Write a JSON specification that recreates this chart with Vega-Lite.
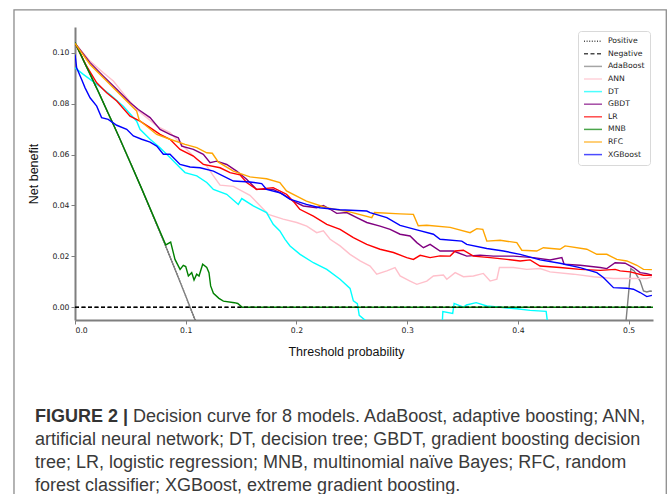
{
  "$schema": "https://vega.github.io/schema/vega-lite/v6.json",
  "width": 578,
  "height": 293,
  "autosize": {"type": "none"},
  "padding": {"left": 75, "top": 27, "right": 19, "bottom": 174},
  "background": "white",
  "config": {
    "view": {"stroke": null},
    "axis": {
      "domainColor": "#7f7f7f", "domainWidth": 2, "tickColor": "#7f7f7f", "tickWidth": 1, "tickSize": 4,
      "labelFont": "DejaVu Sans", "labelFontSize": 7.7, "labelColor": "#222", "labelPadding": 2,
      "titleFont": "Liberation Sans", "titleFontSize": 12.5, "titleFontWeight": "normal", "titleColor": "#111",
      "grid": false
    },
    "legend": {
      "orient": "none", "legendX": 503, "legendY": 4, "fillColor": "white", "strokeColor": "#d9d9d9",
      "cornerRadius": 3, "padding": 5, "symbolType": "stroke", "symbolSize": 324, "symbolStrokeWidth": 1.5,
      "labelFont": "DejaVu Sans", "labelFontSize": 7.7, "labelColor": "#222", "clipHeight": 10.4, "rowPadding": 1.6,
      "labelOffset": 5, "symbolOpacity": 0.7
    }
  },
  "datasets": {
    "curves": [
      {"m":"Positive","x":0,"y":0.104},{"m":"Positive","x":0.02,"y":0.0857},{"m":"Positive","x":0.04,"y":0.0667},{"m":"Positive","x":0.06,"y":0.0468},{"m":"Positive","x":0.08,"y":0.0261},{"m":"Positive","x":0.1,"y":0.0044},{"m":"Positive","x":0.11,"y":-0.0067},{"m":"Positive","x":0.12,"y":-0.0182},
      {"m":"Negative","x":0,"y":0},{"m":"Negative","x":0.522,"y":0},
      {"m":"AdaBoost","x":0,"y":0.104},{"m":"AdaBoost","x":0.02,"y":0.0857},{"m":"AdaBoost","x":0.04,"y":0.0667},{"m":"AdaBoost","x":0.06,"y":0.0468},{"m":"AdaBoost","x":0.08,"y":0.0261},{"m":"AdaBoost","x":0.1,"y":0.0044},{"m":"AdaBoost","x":0.11,"y":-0.0067},{"m":"AdaBoost","x":0.12,"y":-0.0182},{"m":"AdaBoost","x":0.2,"y":-0.12},{"m":"AdaBoost","x":0.3,"y":-0.28},{"m":"AdaBoost","x":0.4,"y":-0.49},{"m":"AdaBoost","x":0.497,"y":-0.78},{"m":"AdaBoost","x":0.4975,"y":-0.006},{"m":"AdaBoost","x":0.502,"y":0.0152},{"m":"AdaBoost","x":0.505,"y":0.0143},{"m":"AdaBoost","x":0.5104,"y":0.0103},{"m":"AdaBoost","x":0.5134,"y":0.0064},{"m":"AdaBoost","x":0.5164,"y":0.006},{"m":"AdaBoost","x":0.5194,"y":0.0064},{"m":"AdaBoost","x":0.521,"y":0.0063},
      {"m":"ANN","x":0,"y":0.1037},{"m":"ANN","x":0.0136,"y":0.0967},{"m":"ANN","x":0.0256,"y":0.0921},{"m":"ANN","x":0.0346,"y":0.0889},{"m":"ANN","x":0.0407,"y":0.0856},{"m":"ANN","x":0.0467,"y":0.0823},{"m":"ANN","x":0.0557,"y":0.0777},{"m":"ANN","x":0.0648,"y":0.0745},{"m":"ANN","x":0.0738,"y":0.0712},{"m":"ANN","x":0.0858,"y":0.0686},{"m":"ANN","x":0.0978,"y":0.0633},{"m":"ANN","x":0.11,"y":0.0581},{"m":"ANN","x":0.119,"y":0.0555},{"m":"ANN","x":0.125,"y":0.0516},{"m":"ANN","x":0.131,"y":0.048},{"m":"ANN","x":0.143,"y":0.0475},{"m":"ANN","x":0.158,"y":0.044},{"m":"ANN","x":0.1746,"y":0.0365},{"m":"ANN","x":0.188,"y":0.0346},{"m":"ANN","x":0.2003,"y":0.0333},{"m":"ANN","x":0.2093,"y":0.0319},{"m":"ANN","x":0.2183,"y":0.0293},{"m":"ANN","x":0.2243,"y":0.03},{"m":"ANN","x":0.2304,"y":0.0267},{"m":"ANN","x":0.2394,"y":0.0241},{"m":"ANN","x":0.2484,"y":0.0208},{"m":"ANN","x":0.2575,"y":0.0182},{"m":"ANN","x":0.2665,"y":0.0162},{"m":"ANN","x":0.2725,"y":0.013},{"m":"ANN","x":0.2816,"y":0.0143},{"m":"ANN","x":0.289,"y":0.0156},{"m":"ANN","x":0.2936,"y":0.0123},{"m":"ANN","x":0.3026,"y":0.0103},{"m":"ANN","x":0.3087,"y":0.009},{"m":"ANN","x":0.3177,"y":0.0103},{"m":"ANN","x":0.3237,"y":0.0123},{"m":"ANN","x":0.3327,"y":0.0127},{"m":"ANN","x":0.3358,"y":0.011},{"m":"ANN","x":0.3433,"y":0.0136},{"m":"ANN","x":0.3508,"y":0.012},{"m":"ANN","x":0.3598,"y":0.0123},{"m":"ANN","x":0.3688,"y":0.0133},{"m":"ANN","x":0.3749,"y":0.0103},{"m":"ANN","x":0.381,"y":0.011},{"m":"ANN","x":0.3833,"y":0.0156},{"m":"ANN","x":0.396,"y":0.0156},{"m":"ANN","x":0.408,"y":0.0149},{"m":"ANN","x":0.42,"y":0.0152},{"m":"ANN","x":0.429,"y":0.0139},{"m":"ANN","x":0.4501,"y":0.013},{"m":"ANN","x":0.4682,"y":0.012},{"m":"ANN","x":0.4863,"y":0.0113},{"m":"ANN","x":0.5043,"y":0.0113},{"m":"ANN","x":0.5164,"y":0.0113},{"m":"ANN","x":0.521,"y":0.012},
      {"m":"DT","x":0,"y":0.0941},{"m":"DT","x":0.0075,"y":0.0915},{"m":"DT","x":0.0196,"y":0.0876},{"m":"DT","x":0.0316,"y":0.0836},{"m":"DT","x":0.0436,"y":0.079},{"m":"DT","x":0.0557,"y":0.0731},{"m":"DT","x":0.0587,"y":0.0699},{"m":"DT","x":0.0678,"y":0.066},{"m":"DT","x":0.0768,"y":0.0627},{"m":"DT","x":0.0858,"y":0.0588},{"m":"DT","x":0.0949,"y":0.0548},{"m":"DT","x":0.0994,"y":0.0529},{"m":"DT","x":0.11,"y":0.0516},{"m":"DT","x":0.119,"y":0.049},{"m":"DT","x":0.125,"y":0.0463},{"m":"DT","x":0.137,"y":0.0444},{"m":"DT","x":0.1475,"y":0.0404},{"m":"DT","x":0.1506,"y":0.0427},{"m":"DT","x":0.161,"y":0.0398},{"m":"DT","x":0.173,"y":0.0372},{"m":"DT","x":0.179,"y":0.0326},{"m":"DT","x":0.185,"y":0.03},{"m":"DT","x":0.1897,"y":0.0267},{"m":"DT","x":0.1942,"y":0.0241},{"m":"DT","x":0.2033,"y":0.0208},{"m":"DT","x":0.2153,"y":0.0175},{"m":"DT","x":0.2274,"y":0.0149},{"m":"DT","x":0.2394,"y":0.011},{"m":"DT","x":0.2484,"y":0.0074},{"m":"DT","x":0.2514,"y":0.0025},{"m":"DT","x":0.255,"y":0.0014},{"m":"DT","x":0.2567,"y":-0.0032},{"m":"DT","x":0.2655,"y":-0.0063},{"m":"DT","x":0.29,"y":-0.015},{"m":"DT","x":0.331,"y":-0.012},{"m":"DT","x":0.3322,"y":-0.0017},{"m":"DT","x":0.3411,"y":-0.0024},{"m":"DT","x":0.3424,"y":0.0015},{"m":"DT","x":0.3508,"y":0.0},{"m":"DT","x":0.3535,"y":0.0009},{"m":"DT","x":0.3623,"y":0.0018},{"m":"DT","x":0.3719,"y":0.0005},{"m":"DT","x":0.3839,"y":0.0},{"m":"DT","x":0.399,"y":-0.0006},{"m":"DT","x":0.411,"y":-0.0012},{"m":"DT","x":0.4255,"y":-0.0016},{"m":"DT","x":0.4285,"y":-0.012},{"m":"DT","x":0.46,"y":-0.02},{"m":"DT","x":0.521,"y":-0.03},
      {"m":"GBDT","x":0,"y":0.1037},{"m":"GBDT","x":0.0136,"y":0.0961},{"m":"GBDT","x":0.0256,"y":0.0908},{"m":"GBDT","x":0.0377,"y":0.0856},{"m":"GBDT","x":0.0497,"y":0.0804},{"m":"GBDT","x":0.0572,"y":0.0777},{"m":"GBDT","x":0.0678,"y":0.0745},{"m":"GBDT","x":0.0768,"y":0.0699},{"m":"GBDT","x":0.0858,"y":0.0679},{"m":"GBDT","x":0.0933,"y":0.0666},{"m":"GBDT","x":0.0964,"y":0.0633},{"m":"GBDT","x":0.1069,"y":0.062},{"m":"GBDT","x":0.1159,"y":0.0601},{"m":"GBDT","x":0.122,"y":0.0568},{"m":"GBDT","x":0.128,"y":0.0574},{"m":"GBDT","x":0.137,"y":0.0561},{"m":"GBDT","x":0.146,"y":0.0535},{"m":"GBDT","x":0.155,"y":0.0503},{"m":"GBDT","x":0.164,"y":0.0463},{"m":"GBDT","x":0.179,"y":0.0463},{"m":"GBDT","x":0.188,"y":0.0444},{"m":"GBDT","x":0.197,"y":0.0417},{"m":"GBDT","x":0.2062,"y":0.0398},{"m":"GBDT","x":0.2183,"y":0.0391},{"m":"GBDT","x":0.2243,"y":0.04},{"m":"GBDT","x":0.2304,"y":0.0385},{"m":"GBDT","x":0.2364,"y":0.0369},{"m":"GBDT","x":0.2454,"y":0.0372},{"m":"GBDT","x":0.2545,"y":0.0352},{"m":"GBDT","x":0.2635,"y":0.0333},{"m":"GBDT","x":0.2755,"y":0.0319},{"m":"GBDT","x":0.2846,"y":0.0306},{"m":"GBDT","x":0.2936,"y":0.0287},{"m":"GBDT","x":0.3026,"y":0.028},{"m":"GBDT","x":0.3087,"y":0.0254},{"m":"GBDT","x":0.3147,"y":0.0234},{"m":"GBDT","x":0.3207,"y":0.0247},{"m":"GBDT","x":0.3297,"y":0.0221},{"m":"GBDT","x":0.3418,"y":0.0221},{"m":"GBDT","x":0.3538,"y":0.0201},{"m":"GBDT","x":0.3659,"y":0.0205},{"m":"GBDT","x":0.3779,"y":0.0201},{"m":"GBDT","x":0.396,"y":0.0201},{"m":"GBDT","x":0.414,"y":0.0195},{"m":"GBDT","x":0.429,"y":0.0186},{"m":"GBDT","x":0.4397,"y":0.0195},{"m":"GBDT","x":0.4417,"y":0.0169},{"m":"GBDT","x":0.4562,"y":0.0165},{"m":"GBDT","x":0.4743,"y":0.0156},{"m":"GBDT","x":0.4803,"y":0.0152},{"m":"GBDT","x":0.4878,"y":0.0175},{"m":"GBDT","x":0.4968,"y":0.0173},{"m":"GBDT","x":0.5043,"y":0.0156},{"m":"GBDT","x":0.5104,"y":0.0136},{"m":"GBDT","x":0.5164,"y":0.0132},{"m":"GBDT","x":0.521,"y":0.0126},
      {"m":"LR","x":0,"y":0.1037},{"m":"LR","x":0.0105,"y":0.0947},{"m":"LR","x":0.0196,"y":0.0882},{"m":"LR","x":0.0286,"y":0.0843},{"m":"LR","x":0.0377,"y":0.081},{"m":"LR","x":0.0497,"y":0.0751},{"m":"LR","x":0.0587,"y":0.0731},{"m":"LR","x":0.0678,"y":0.0706},{"m":"LR","x":0.0768,"y":0.0679},{"m":"LR","x":0.0858,"y":0.066},{"m":"LR","x":0.0949,"y":0.062},{"m":"LR","x":0.1069,"y":0.0594},{"m":"LR","x":0.1159,"y":0.0561},{"m":"LR","x":0.131,"y":0.0548},{"m":"LR","x":0.14,"y":0.0529},{"m":"LR","x":0.149,"y":0.052},{"m":"LR","x":0.155,"y":0.049},{"m":"LR","x":0.164,"y":0.0463},{"m":"LR","x":0.179,"y":0.047},{"m":"LR","x":0.191,"y":0.0444},{"m":"LR","x":0.197,"y":0.0417},{"m":"LR","x":0.203,"y":0.0385},{"m":"LR","x":0.2153,"y":0.0358},{"m":"LR","x":0.2274,"y":0.0326},{"m":"LR","x":0.2394,"y":0.0306},{"m":"LR","x":0.2514,"y":0.0274},{"m":"LR","x":0.2635,"y":0.0247},{"m":"LR","x":0.2755,"y":0.0228},{"m":"LR","x":0.2876,"y":0.0215},{"m":"LR","x":0.2996,"y":0.0195},{"m":"LR","x":0.3056,"y":0.0188},{"m":"LR","x":0.3117,"y":0.0204},{"m":"LR","x":0.3207,"y":0.0195},{"m":"LR","x":0.3297,"y":0.0202},{"m":"LR","x":0.3388,"y":0.0201},{"m":"LR","x":0.3433,"y":0.0221},{"m":"LR","x":0.3508,"y":0.0224},{"m":"LR","x":0.3598,"y":0.0201},{"m":"LR","x":0.3749,"y":0.0195},{"m":"LR","x":0.39,"y":0.0188},{"m":"LR","x":0.402,"y":0.0182},{"m":"LR","x":0.411,"y":0.0186},{"m":"LR","x":0.42,"y":0.0162},{"m":"LR","x":0.438,"y":0.0156},{"m":"LR","x":0.4562,"y":0.0149},{"m":"LR","x":0.4743,"y":0.0145},{"m":"LR","x":0.4878,"y":0.0149},{"m":"LR","x":0.4923,"y":0.0143},{"m":"LR","x":0.5014,"y":0.0139},{"m":"LR","x":0.5134,"y":0.0126},{"m":"LR","x":0.521,"y":0.0126},
      {"m":"MNB","x":0,"y":0.104},{"m":"MNB","x":0.02,"y":0.0857},{"m":"MNB","x":0.04,"y":0.0667},{"m":"MNB","x":0.06,"y":0.0468},{"m":"MNB","x":0.082,"y":0.0245},{"m":"MNB","x":0.0864,"y":0.0256},{"m":"MNB","x":0.0903,"y":0.0188},{"m":"MNB","x":0.0949,"y":0.0149},{"m":"MNB","x":0.0978,"y":0.0165},{"m":"MNB","x":0.1,"y":0.016},{"m":"MNB","x":0.1024,"y":0.0123},{"m":"MNB","x":0.1054,"y":0.0136},{"m":"MNB","x":0.1075,"y":0.0107},{"m":"MNB","x":0.1099,"y":0.013},{"m":"MNB","x":0.112,"y":0.0123},{"m":"MNB","x":0.1153,"y":0.0169},{"m":"MNB","x":0.119,"y":0.0156},{"m":"MNB","x":0.121,"y":0.0136},{"m":"MNB","x":0.1225,"y":0.0084},{"m":"MNB","x":0.125,"y":0.0055},{"m":"MNB","x":0.13,"y":0.0035},{"m":"MNB","x":0.134,"y":0.0024},{"m":"MNB","x":0.144,"y":0.0018},{"m":"MNB","x":0.147,"y":0.0015},{"m":"MNB","x":0.151,"y":0},{"m":"MNB","x":0.522,"y":0},
      {"m":"RFC","x":0,"y":0.1037},{"m":"RFC","x":0.0136,"y":0.0954},{"m":"RFC","x":0.0256,"y":0.0902},{"m":"RFC","x":0.0407,"y":0.0836},{"m":"RFC","x":0.0557,"y":0.0771},{"m":"RFC","x":0.058,"y":0.0735},{"m":"RFC","x":0.0738,"y":0.0679},{"m":"RFC","x":0.0858,"y":0.066},{"m":"RFC","x":0.0994,"y":0.064},{"m":"RFC","x":0.11,"y":0.0627},{"m":"RFC","x":0.119,"y":0.0607},{"m":"RFC","x":0.124,"y":0.0605},{"m":"RFC","x":0.1295,"y":0.057},{"m":"RFC","x":0.143,"y":0.0535},{"m":"RFC","x":0.158,"y":0.0512},{"m":"RFC","x":0.173,"y":0.0505},{"m":"RFC","x":0.185,"y":0.049},{"m":"RFC","x":0.191,"y":0.0457},{"m":"RFC","x":0.209,"y":0.0417},{"m":"RFC","x":0.227,"y":0.0391},{"m":"RFC","x":0.248,"y":0.0375},{"m":"RFC","x":0.268,"y":0.0352},{"m":"RFC","x":0.2705,"y":0.0372},{"m":"RFC","x":0.2936,"y":0.0367},{"m":"RFC","x":0.3056,"y":0.0365},{"m":"RFC","x":0.31,"y":0.032},{"m":"RFC","x":0.3177,"y":0.0322},{"m":"RFC","x":0.3388,"y":0.0314},{"m":"RFC","x":0.3568,"y":0.0293},{"m":"RFC","x":0.3629,"y":0.0309},{"m":"RFC","x":0.3683,"y":0.0306},{"m":"RFC","x":0.3719,"y":0.026},{"m":"RFC","x":0.3839,"y":0.0263},{"m":"RFC","x":0.399,"y":0.0254},{"m":"RFC","x":0.4035,"y":0.0224},{"m":"RFC","x":0.417,"y":0.0221},{"m":"RFC","x":0.423,"y":0.0234},{"m":"RFC","x":0.438,"y":0.0228},{"m":"RFC","x":0.4426,"y":0.0241},{"m":"RFC","x":0.4622,"y":0.0228},{"m":"RFC","x":0.4713,"y":0.0208},{"m":"RFC","x":0.4803,"y":0.0208},{"m":"RFC","x":0.4893,"y":0.0188},{"m":"RFC","x":0.4984,"y":0.0182},{"m":"RFC","x":0.5074,"y":0.0165},{"m":"RFC","x":0.5134,"y":0.0149},{"m":"RFC","x":0.521,"y":0.0148},
      {"m":"XGBoost","x":0,"y":0.0993},{"m":"XGBoost","x":0.0015,"y":0.0941},{"m":"XGBoost","x":0.006,"y":0.0895},{"m":"XGBoost","x":0.009,"y":0.0863},{"m":"XGBoost","x":0.0136,"y":0.0823},{"m":"XGBoost","x":0.0196,"y":0.079},{"m":"XGBoost","x":0.024,"y":0.0745},{"m":"XGBoost","x":0.03,"y":0.0738},{"m":"XGBoost","x":0.0377,"y":0.0715},{"m":"XGBoost","x":0.0467,"y":0.0699},{"m":"XGBoost","x":0.0527,"y":0.0673},{"m":"XGBoost","x":0.0602,"y":0.066},{"m":"XGBoost","x":0.0678,"y":0.0649},{"m":"XGBoost","x":0.0738,"y":0.0633},{"m":"XGBoost","x":0.0798,"y":0.0601},{"m":"XGBoost","x":0.0858,"y":0.0601},{"m":"XGBoost","x":0.0949,"y":0.0561},{"m":"XGBoost","x":0.1039,"y":0.0551},{"m":"XGBoost","x":0.113,"y":0.0548},{"m":"XGBoost","x":0.125,"y":0.0535},{"m":"XGBoost","x":0.143,"y":0.0496},{"m":"XGBoost","x":0.158,"y":0.0492},{"m":"XGBoost","x":0.1686,"y":0.0486},{"m":"XGBoost","x":0.173,"y":0.0463},{"m":"XGBoost","x":0.185,"y":0.045},{"m":"XGBoost","x":0.194,"y":0.0425},{"m":"XGBoost","x":0.209,"y":0.0404},{"m":"XGBoost","x":0.221,"y":0.0391},{"m":"XGBoost","x":0.239,"y":0.0383},{"m":"XGBoost","x":0.2635,"y":0.0378},{"m":"XGBoost","x":0.2665,"y":0.0372},{"m":"XGBoost","x":0.2816,"y":0.0352},{"m":"XGBoost","x":0.2936,"y":0.0322},{"m":"XGBoost","x":0.3087,"y":0.0304},{"m":"XGBoost","x":0.3237,"y":0.0287},{"m":"XGBoost","x":0.3297,"y":0.0267},{"m":"XGBoost","x":0.3493,"y":0.026},{"m":"XGBoost","x":0.3538,"y":0.0247},{"m":"XGBoost","x":0.3719,"y":0.0231},{"m":"XGBoost","x":0.3869,"y":0.0221},{"m":"XGBoost","x":0.402,"y":0.0208},{"m":"XGBoost","x":0.42,"y":0.0186},{"m":"XGBoost","x":0.438,"y":0.0173},{"m":"XGBoost","x":0.456,"y":0.0156},{"m":"XGBoost","x":0.4713,"y":0.0136},{"m":"XGBoost","x":0.4772,"y":0.0117},{"m":"XGBoost","x":0.4863,"y":0.0077},{"m":"XGBoost","x":0.4983,"y":0.0075},{"m":"XGBoost","x":0.5043,"y":0.0071},{"m":"XGBoost","x":0.5104,"y":0.0058},{"m":"XGBoost","x":0.5164,"y":0.0042},{"m":"XGBoost","x":0.521,"y":0.0047}
    ]
  },
  "layer": [
    {
      "data": {"values": [{}]},
      "mark": {"type": "rect", "fillOpacity": 0, "stroke": "#8c8c8c", "strokeWidth": 1.3, "clip": false},
      "encoding": {
        "x": {"datum": -0.0551, "type": "quantitative"},
        "x2": {"datum": 0.534},
        "y": {"datum": 0.1168, "type": "quantitative"},
        "y2": {"datum": -0.0757}
      }
    },
    {
      "data": {"name": "curves"},
      "transform": [{"filter": "datum.m === 'Positive'"}],
      "mark": {"type": "line", "clip": true, "strokeWidth": 1.2},
      "encoding": {
        "x": {
          "field": "x", "type": "quantitative",
          "scale": {"domain": [0, 0.522], "nice": false, "zero": false},
          "axis": {"values": [0, 0.1, 0.2, 0.3, 0.4, 0.5], "format": ".1f", "title": "Threshold probability", "titleX": 271, "titlePadding": 12}
        },
        "y": {
          "field": "y", "type": "quantitative",
          "scale": {"domain": [-0.005, 0.1101], "nice": false, "zero": false},
          "axis": {"values": [0, 0.02, 0.04, 0.06, 0.08, 0.1], "format": ".2f", "title": "Net benefit", "titlePadding": 11}
        },
        "color": {
          "field": "m", "type": "nominal", "title": null,
          "scale": {
            "domain": ["Positive", "Negative", "AdaBoost", "ANN", "DT", "GBDT", "LR", "MNB", "RFC", "XGBoost"],
            "range": ["#000000", "#000000", "#808080", "#ffc0cb", "#00ffff", "#800080", "#ff0000", "#008000", "#ffa500", "#0000ff"]
          }
        },
        "strokeDash": {
          "field": "m", "type": "nominal", "title": null,
          "scale": {
            "domain": ["Positive", "Negative", "AdaBoost", "ANN", "DT", "GBDT", "LR", "MNB", "RFC", "XGBoost"],
            "range": [[1, 1.6], [4, 2.5], [], [], [], [], [], [], [], []]
          }
        }
      }
    },
    {
      "data": {"name": "curves"},
      "transform": [{"filter": "datum.m !== 'Positive'"}],
      "mark": {"type": "line", "clip": true, "strokeWidth": 1.4},
      "encoding": {
        "x": {"field": "x", "type": "quantitative"},
        "y": {"field": "y", "type": "quantitative"},
        "color": {"field": "m", "type": "nominal", "title": null},
        "strokeDash": {"field": "m", "type": "nominal", "title": null}
      }
    },
    {
      "data": {"values": [{"x": 0, "y": 0}, {"x": 0.522, "y": 0}]},
      "mark": {"type": "line", "color": "#000000", "strokeDash": [4, 2.5], "strokeWidth": 1.1, "clip": true},
      "encoding": {
        "x": {"field": "x", "type": "quantitative"},
        "y": {"field": "y", "type": "quantitative"}
      }
    },
    {
      "data": {"values": [{}]},
      "mark": {"type": "text", "align": "left", "baseline": "alphabetic", "font": "Liberation Sans", "fontSize": 18, "fontWeight": "bold", "color": "#333333", "clip": false},
      "encoding": {
        "x": {"datum": -0.0361, "type": "quantitative"},
        "y": {"datum": -0.0451, "type": "quantitative"},
        "text": {"value": "FIGURE 2 |"}
      }
    },
    {
      "data": {"values": [{}]},
      "mark": {"type": "text", "align": "left", "baseline": "alphabetic", "font": "Liberation Sans", "fontSize": 18, "color": "#3a3a3a", "clip": false},
      "encoding": {
        "x": {"datum": 0.0524, "type": "quantitative"},
        "y": {"datum": -0.0451, "type": "quantitative"},
        "text": {"value": "Decision curve for 8 models. AdaBoost, adaptive boosting; ANN,"}
      }
    },
    {
      "data": {"values": [{}]},
      "mark": {"type": "text", "align": "left", "baseline": "alphabetic", "font": "Liberation Sans", "fontSize": 18, "lineHeight": 23, "color": "#3a3a3a", "clip": false},
      "encoding": {
        "x": {"datum": -0.0361, "type": "quantitative"},
        "y": {"datum": -0.0540, "type": "quantitative"},
        "text": {"value": ["artificial neural network; DT, decision tree; GBDT, gradient boosting decision", "tree; LR, logistic regression; MNB, multinomial naïve Bayes; RFC, random", "forest classifier; XGBoost, extreme gradient boosting."]}
      }
    }
  ]
}
